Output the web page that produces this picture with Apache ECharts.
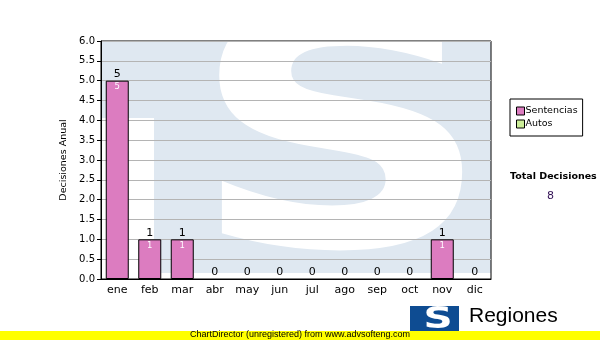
<!DOCTYPE html>
<html><head><meta charset="utf-8">
<script src="https://cdn.jsdelivr.net/npm/echarts@6/dist/echarts.min.js"></script>
<style>html,body{margin:0;padding:0;background:#fff}#c{width:600px;height:340px}</style>
</head><body><div id="c"></div>
<script>
const months = ['ene','feb','mar','abr','may','jun','jul','ago','sep','oct','nov','dic'];
const sentencias = [5,1,1,0,0,0,0,0,0,0,1,0];
const autos = [0,0,0,0,0,0,0,0,0,0,0,0];
const totalLabel = 'Total Decisiones';
const totals = months.map((m,i)=>sentencias[i]+autos[i]);
const grandTotal = totals.reduce((a,b)=>a+b,0);

const FONT = 'DejaVu Sans';
const chart = echarts.init(document.getElementById('c'), null, {renderer:'canvas'});
chart.setOption({
  animation:false,
  textStyle:{fontFamily:FONT},
  grid:{left:101,right:109,top:41,bottom:61,containLabel:false,show:true,borderColor:'#000',borderWidth:1,backgroundColor:'transparent'},
  legend:{
    data:[{name:'Sentencias',itemStyle:{color:'#dc7cc0',borderColor:'#000',borderWidth:1}},
          {name:'Autos',itemStyle:{color:'#ccee99',borderColor:'#000',borderWidth:1}}],
    orient:'vertical', left:510, top:99,
    itemWidth:8,itemHeight:8,itemGap:3,padding:[7,5,7,6],
    borderColor:'#000',borderWidth:1,
    textStyle:{fontFamily:FONT,fontSize:9.5,color:'#000',padding:[0,0,0,-4]},
    icon:'rect'
  },
  graphic:[
    {type:'rect',z:-10,shape:{x:101,y:41,width:390,height:232},style:{fill:'#dfe8f1'}},
    {type:'rect',z:-9,shape:{x:101,y:118,width:53,height:161},style:{fill:'#ffffff'}},
    {type:'text',z:-8,x:341,y:160,scaleX:1.28,style:{x:0,y:0,text:'S',textAlign:'center',textVerticalAlign:'middle',fill:'#ffffff',font:'bold 330px "DejaVu Sans"'}},
    {type:'text',left:510,top:172,style:{text:totalLabel,fill:'#000',font:'bold 9.5px "DejaVu Sans"'}},
    {type:'text',left:547,top:191,style:{text:String(grandTotal),fill:'#331155',font:'11px "DejaVu Sans"'}},
    {type:'rect',shape:{x:0,y:331,width:600,height:9},style:{fill:'#ffff00'}},
    {type:'text',left:'center',top:330.5,style:{text:'ChartDirector (unregistered) from www.advsofteng.com',fill:'#000',font:'9px "Liberation Sans"'}},
    {type:'rect',shape:{x:410,y:306,width:49,height:25},style:{fill:'#0e4c92'}},
    {type:'text',x:438,y:320,scaleX:1.35,style:{x:0,y:0,text:'S',textAlign:'center',textVerticalAlign:'middle',fill:'#ffffff',font:'bold 30px "DejaVu Sans"'}},
    {type:'text',left:469,top:306,style:{text:'Regiones',fill:'#000',font:'21px "Liberation Sans"'}}
  ],
  xAxis:{
    type:'category',data:months,
    axisLine:{lineStyle:{color:'#000'}},
    axisTick:{alignWithLabel:true,length:4,lineStyle:{color:'#000'}},
    axisLabel:{color:'#000',fontSize:11,fontFamily:FONT,margin:6}
  },
  yAxis:{
    type:'value',min:0,max:6,interval:0.5,
    name:'Decisiones Anual',nameLocation:'middle',nameGap:30,
    nameTextStyle:{color:'#000',fontSize:9.5,fontFamily:FONT},
    axisLine:{show:true,lineStyle:{color:'#000'}},
    axisTick:{show:true,length:4,lineStyle:{color:'#000'}},
    axisLabel:{color:'#000',fontSize:10,fontFamily:FONT,margin:6,formatter:v=>v.toFixed(1)},
    splitLine:{lineStyle:{color:'#b4b4b4'}}
  },
  series:[
    {name:'Sentencias',type:'bar',stack:'t',data:sentencias.map(v=>v===0?'-':v),barWidth:23,
     itemStyle:{color:'#dc7cc0',borderColor:'#000',borderWidth:1},
     label:{show:true,position:'insideTop',distance:2,color:'#fff',fontSize:8.5,fontFamily:FONT,
       formatter:p=>String(p.value)}},
    {name:'Autos',type:'bar',stack:'t',data:autos,barWidth:23,
     itemStyle:{color:'#ccee99',borderWidth:0},
     label:{show:true,position:'top',distance:1,color:'#000',fontSize:11,fontFamily:FONT,
       formatter:p=>String(totals[p.dataIndex])}}
  ]
});
</script></body></html>
